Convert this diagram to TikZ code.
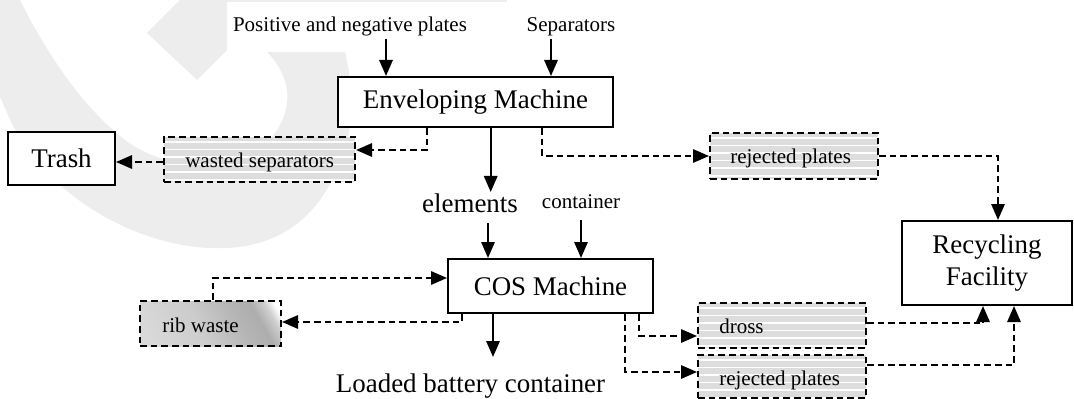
\documentclass[tikz,border=0pt]{standalone}
\usepackage{fontspec}
\setmainfont{Liberation Serif}
\usetikzlibrary{arrows.meta}
\pgfdeclarehorizontalshading{ribshade}{100bp}{color(0bp)=(gray!30); color(22bp)=(gray!30); color(45bp)=(gray!40); color(62bp)=(gray!58); color(71bp)=(gray!64); color(77bp)=(gray!38); color(81bp)=(white); color(100bp)=(white)}
\begin{document}
\begin{tikzpicture}[x=0.75pt,y=-0.75pt,
  box/.style={draw, line width=1.5pt, fill=white, inner sep=0pt, align=center},
  big/.style={font=\fontsize{20.2pt}{24pt}\selectfont},
  small/.style={font=\fontsize{15.75pt}{19pt}\selectfont},
  lbl/.style={inner sep=0pt, anchor=base},
  lblw/.style={inner sep=0pt, anchor=base west, small},
  dashbox/.style={draw, line width=1.5pt, dash pattern=on 5pt off 3pt, inner sep=0pt},
  hatchbox/.style={dashbox, fill=gray!27,
    path picture={
      \foreach \k in {0,...,7}{
        \draw[solid, white, line width=1.1pt]
          ([yshift=-3.6pt-\k*5.7pt]path picture bounding box.north west) --
          ([yshift=-3.6pt-\k*5.7pt]path picture bounding box.north east);
      }}},
  arr/.style={line width=1.5pt, -{Triangle[length=12pt,width=10pt]}},
  darr/.style={line width=1.5pt, dash pattern=on 5pt off 3pt, -{Triangle[length=12pt,width=10pt]}},
  wm/.style={fill=gray!14, draw=none}
]
\useasboundingbox (0,0) rectangle (1074,399);
\begin{scope}
\clip (0,0) rectangle (1074,399);
% watermark
\path[wm] (-45,0) -- (20,0)
  .. controls (45,50) and (80,105) .. (125,140)
  .. controls (165,170) and (235,178) .. (268,142)
  .. controls (292,115) and (296,82) .. (267,52)
  -- (345,52)
  .. controls (358,105) and (352,155) .. (320,200)
  .. controls (292,238) and (252,250) .. (210,248)
  .. controls (130,245) and (40,190) .. (8,115)
  .. controls (-8,78) and (-30,30) .. (-45,0) -- cycle;
\path[wm] (147,33) -- (197,80) -- (227,50) -- (227,0) -- (180,0) -- cycle;
\path[wm] (180,0) rectangle (507,2.5);
\end{scope}

% text labels
\node[lbl, small] (pos) at (350,31.5) {Positive and negative plates};
\node[lbl, small] (sep) at (571,31.5) {Separators};
\node[lbl, big] (elem) at (470,213) {elements};
\node[lbl, small] (cont) at (581,209) {container};
\node[lbl, big] (load) at (470.5,392) {Loaded battery container};

% solid boxes
\node[box, big, minimum width=206.25pt, minimum height=37.5pt] (env) at (475.5,102) {Enveloping Machine};
\node[box, big, minimum width=153.75pt, minimum height=40.5pt] (cos) at (550.5,286) {COS Machine};
\node[box, big, minimum width=80.25pt, minimum height=39.75pt] (trash) at (61.5,158.5) {Trash};
\node[box, big, minimum width=127.5pt, minimum height=63pt] (rec) at (987,263) {Recycling\\Facility};

% dashed boxes
\node[hatchbox, minimum width=143.25pt, minimum height=33.75pt] (wasted) at (259.5,159.5) {};
\node[lblw] (twasted) at (185,167) {wasted separators};
\node[hatchbox, minimum width=126pt, minimum height=34.5pt] (rej1) at (794,156) {};
\node[lblw] (trej1) at (730,164) {rejected plates};
\node[hatchbox, minimum width=126pt, minimum height=33.75pt] (dross) at (782,325.5) {};
\node[lblw] (tdross) at (719,333) {dross};
\node[hatchbox, minimum width=126pt, minimum height=32.25pt] (rej2) at (782,376.5) {};
\node[lblw] (trej2) at (719,385) {rejected plates};
\node[dashbox, shading=ribshade, shading angle=30, minimum width=105.75pt, minimum height=33.75pt] (rib) at (210.5,323.5) {};
\node[lblw] (trib) at (162,332) {rib waste};

% helper coordinates
\coordinate (s1) at (386,39);
\coordinate (s2) at (551,39);
\coordinate (s3) at (490.7,192);
\coordinate (s4) at (488,223);
\coordinate (s5) at (581,220);
\coordinate (s6) at (493,357);
\coordinate (w1) at (427,150);
\coordinate (t1) at (0,162);
\coordinate (r1) at (542,156);
\coordinate (r2) at (998,156);
\coordinate (c1) at (213,278);
\coordinate (c2) at (462,322);
\coordinate (d1) at (639,336);
\coordinate (d2) at (625,372);
\coordinate (d3) at (983,323);
\coordinate (d4) at (1014,365);

% solid arrows
\draw[arr] (s1) -- (s1 |- env.north);
\draw[arr] (s2) -- (s2 |- env.north);
\draw[arr] (env.south -| s3) -- (s3);
\draw[arr] (s4) -- (s4 |- cos.north);
\draw[arr] (s5) -- (s5 |- cos.north);
\draw[arr] (cos.south -| s6) -- (s6);

% dashed arrows
\draw[darr] (env.south -| w1) |- (wasted.east |- w1);
\draw[darr] (wasted.west |- t1) -- (trash.east |- t1);
\draw[darr] (env.south -| r1) |- (rej1.west |- r1);
\draw[darr] (rej1.east |- r2) -| (rec.north -| r2);
\draw[darr] (rib.north -| c1) |- (cos.west |- c1);
\draw[darr] (cos.south -| c2) |- (rib.east |- c2);
\draw[darr] (cos.south -| d1) |- (dross.west |- d1);
\draw[darr] (cos.south -| d2) |- (rej2.west |- d2);
\draw[darr] (dross.east |- d3) -| (rec.south -| d3);
\draw[darr] (rej2.east |- d4) -| (rec.south -| d4);
\end{tikzpicture}
\end{document}
